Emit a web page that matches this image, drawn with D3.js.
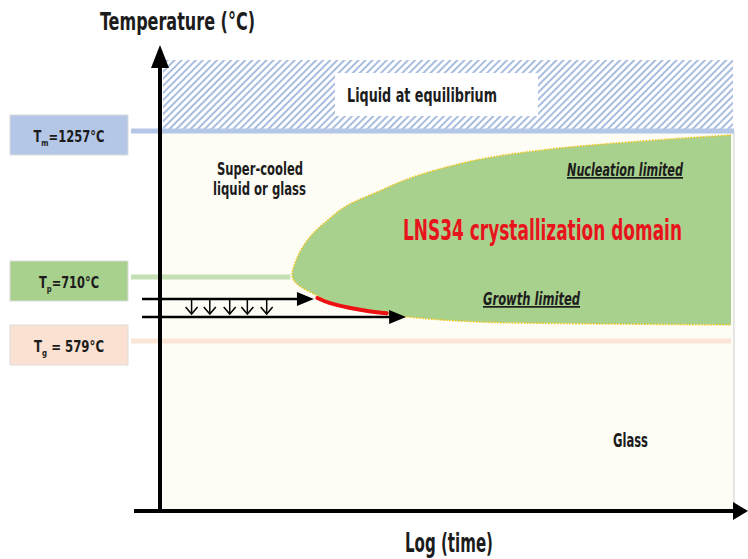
<!DOCTYPE html>
<meta charset="utf-8">
<style>
    body {
        margin: 0;
        background: #fff;
    }
    svg text {
        font-family: "DejaVu Sans Condensed", "Liberation Sans Narrow", "DejaVu Sans", sans-serif;
        font-weight: bold;
        fill: #1c1c1c;
    }
</style>
<svg width="748" height="559"></svg>
<script src="https://d3js.org/d3.v7.min.js"></script>
<script>

    // temperature marks (°C)
    var markNames = ["m", "p", "g"];
    var markTemps = [1257, 710, 579];
    var markLabels = ["=1257°C", "=710°C", " = 579°C"];

    // crystallization domain boundary: log(time) (arbitrary units 0-10), temperature (°C)
    var upperLogt = [2.29, 2.38, 2.60, 2.94, 3.23, 3.81, 4.39, 5.56, 6.73, 7.88, 9.06, 10];
    var upperTemp = [710, 785, 860, 928, 975, 1031, 1083, 1150, 1187, 1210, 1229, 1242];
    var lowerLogt = [2.29, 2.41, 2.64, 2.94, 3.23, 3.81, 4.51, 5.56, 7.66, 10];
    var lowerTemp = [710, 692, 677, 659, 648, 636, 626, 618, 614, 612];

    // red segment (critical cooling path touching the nose)
    var redLogt = [2.73, 2.94, 3.29, 3.64, 3.95];
    var redTemp = [667, 657, 647, 640, 636];

    // cooling arrows
    var arrowStart = -0.35;
    var arrowEnds = [2.67, 4.29];
    var arrowTemps = [665, 628];
    var dropLogt = [0.52, 0.84, 1.19, 1.50, 1.84];

    var svg = d3.select("svg");

    var x = d3.scaleLinear().domain([0, 10]).range([162, 731]);
    var y = d3.scaleLinear()
        .domain([200, 579, 710, 1257, 1480])
        .range([511, 341, 277, 131, 60]);

    var defs = svg.append("defs");
    defs.append("pattern")
        .attr("id", "hatch")
        .attr("patternUnits", "userSpaceOnUse")
        .attr("width", 5)
        .attr("height", 5)
        .attr("patternTransform", "rotate(45)")
        .append("line")
        .attr("x1", 1).attr("y1", 0)
        .attr("x2", 1).attr("y2", 5)
        .attr("stroke", "#a9bde0")
        .attr("stroke-width", 2);

    // background panels
    svg.append("rect")
        .attr("x", 162).attr("y", y(1257))
        .attr("width", 734 - 162).attr("height", 511 - y(1257))
        .attr("fill", "#fdfcf5");
    svg.append("line")
        .attr("x1", 734).attr("x2", 734)
        .attr("y1", y(1257)).attr("y2", 511)
        .attr("stroke", "#cfcfcf").attr("stroke-width", 1);

    svg.append("rect")
        .attr("x", 163).attr("y", 60)
        .attr("width", 733 - 163).attr("height", y(1257) - 60)
        .attr("fill", "#fff");
    svg.append("rect")
        .attr("x", 163).attr("y", 60)
        .attr("width", 733 - 163).attr("height", y(1257) - 60)
        .attr("fill", "url(#hatch)");

    svg.append("rect")
        .attr("x", 335).attr("y", 73)
        .attr("width", 203).attr("height", 43)
        .attr("fill", "#fff");

    // crystallization domain
    var upper = upperLogt.map(function(d, i) { return [x(d), y(upperTemp[i])]; });
    var lower = lowerLogt.map(function(d, i) { return [x(d), y(lowerTemp[i])]; });
    var curve = d3.line().curve(d3.curveCatmullRom.alpha(0.5));
    var outline = upper.slice().reverse().concat(lower.slice(1));

    svg.append("path")
        .attr("d", curve(outline) + "Z")
        .attr("fill", "#a9d18e");
    svg.append("path")
        .attr("d", curve(outline))
        .attr("fill", "none")
        .attr("stroke", "#f5c518")
        .attr("stroke-width", 1.5)
        .attr("stroke-dasharray", "1.5,1.5");

    // temperature lines and labels
    var markFill = ["#b4c7e7", "#a9d18e", "#fbe1d2"];
    var lineColor = ["#b4c7e7", "#c5e0b4", "#fbe5d6"];
    var lineEnd = [734, upperLogt[0], 731];
    var labelWidth = [71, 60, 70];

    markNames.forEach(function(n, i) {
        var ty = y(markTemps[i]);
        svg.append("line")
            .attr("x1", 131)
            .attr("x2", i == 1 ? x(lineEnd[i]) - 2 : lineEnd[i])
            .attr("y1", ty).attr("y2", ty)
            .attr("stroke", lineColor[i])
            .attr("stroke-width", 5);
        svg.append("rect")
            .attr("x", 10).attr("y", ty - 16)
            .attr("width", 118).attr("height", 40)
            .attr("fill", markFill[i])
            .attr("stroke", "#dcdcdc")
            .attr("stroke-width", 1);
        var t = svg.append("text")
            .attr("x", 69 - labelWidth[i] / 2).attr("y", ty + 11)
            .attr("font-size", 15)
            .attr("textLength", labelWidth[i])
            .attr("lengthAdjust", "spacingAndGlyphs");
        t.append("tspan").text("T");
        t.append("tspan").attr("font-size", 9).attr("dy", 4).text(n);
        t.append("tspan").attr("dy", -4).text(markLabels[i]);
    });

    // red critical path
    svg.append("path")
        .attr("d", curve(redLogt.map(function(d, i) { return [x(d), y(redTemp[i])]; })))
        .attr("fill", "none")
        .attr("stroke", "#ee1111")
        .attr("stroke-width", 4)
        .attr("stroke-linecap", "round");

    // cooling arrows
    arrowEnds.forEach(function(e, i) {
        var ay = y(arrowTemps[i]), ax = x(e);
        svg.append("line")
            .attr("x1", x(arrowStart)).attr("x2", ax - 12)
            .attr("y1", ay).attr("y2", ay)
            .attr("stroke", "#000").attr("stroke-width", 2.5);
        svg.append("path")
            .attr("d", "M" + ax + "," + ay + "L" + (ax - 17) + "," + (ay - 7) + "L" + (ax - 17) + "," + (ay + 7) + "Z")
            .attr("fill", "#000");
    });

    dropLogt.forEach(function(d) {
        var dx = x(d), y0 = y(arrowTemps[0]), y1 = y(arrowTemps[1]) - 3;
        svg.append("line")
            .attr("x1", dx).attr("x2", dx)
            .attr("y1", y0).attr("y2", y1)
            .attr("stroke", "#000").attr("stroke-width", 1.5);
        svg.append("path")
            .attr("d", "M" + (dx - 6) + "," + (y1 - 7) + "L" + dx + "," + y1 + "L" + (dx + 6) + "," + (y1 - 7))
            .attr("fill", "none")
            .attr("stroke", "#000").attr("stroke-width", 1.5);
    });

    // axes
    svg.append("line")
        .attr("x1", 160).attr("x2", 160)
        .attr("y1", 512).attr("y2", 62)
        .attr("stroke", "#000").attr("stroke-width", 4);
    svg.append("path")
        .attr("d", "M160,45L151,68L169,68Z")
        .attr("fill", "#000");
    svg.append("line")
        .attr("x1", 134).attr("x2", 736)
        .attr("y1", 511).attr("y2", 511)
        .attr("stroke", "#000").attr("stroke-width", 4);
    svg.append("path")
        .attr("d", "M748,511L733,502L733,520Z")
        .attr("fill", "#000");

    // texts
    function label(tx, ty, size, width, str) {
        return svg.append("text")
            .attr("x", tx).attr("y", ty)
            .attr("font-size", size)
            .attr("textLength", width)
            .attr("lengthAdjust", "spacingAndGlyphs")
            .text(str);
    }

    label(100, 30, 24, 155, "Temperature (°C)");
    label(405, 552, 26, 88, "Log (time)");
    label(347, 102, 19, 150, "Liquid at equilibrium");
    label(217, 175, 18, 86, "Super-cooled");
    label(213, 195, 18, 93, "liquid or glass");
    label(613, 447, 19, 35, "Glass");
    // big red title: smaller font stretched vertically so it stays inside the page
    label(0, 0, 22, 279, "LNS34 crystallization domain")
        .attr("transform", "translate(403,240) scale(1,1.32)")
        .style("fill", "#e8141c");
    label(567, 176, 17, 116, "Nucleation limited")
        .attr("font-style", "italic")
        .attr("text-decoration", "underline");
    label(483, 305, 17, 97, "Growth limited")
        .attr("font-style", "italic")
        .attr("text-decoration", "underline");

</script>
